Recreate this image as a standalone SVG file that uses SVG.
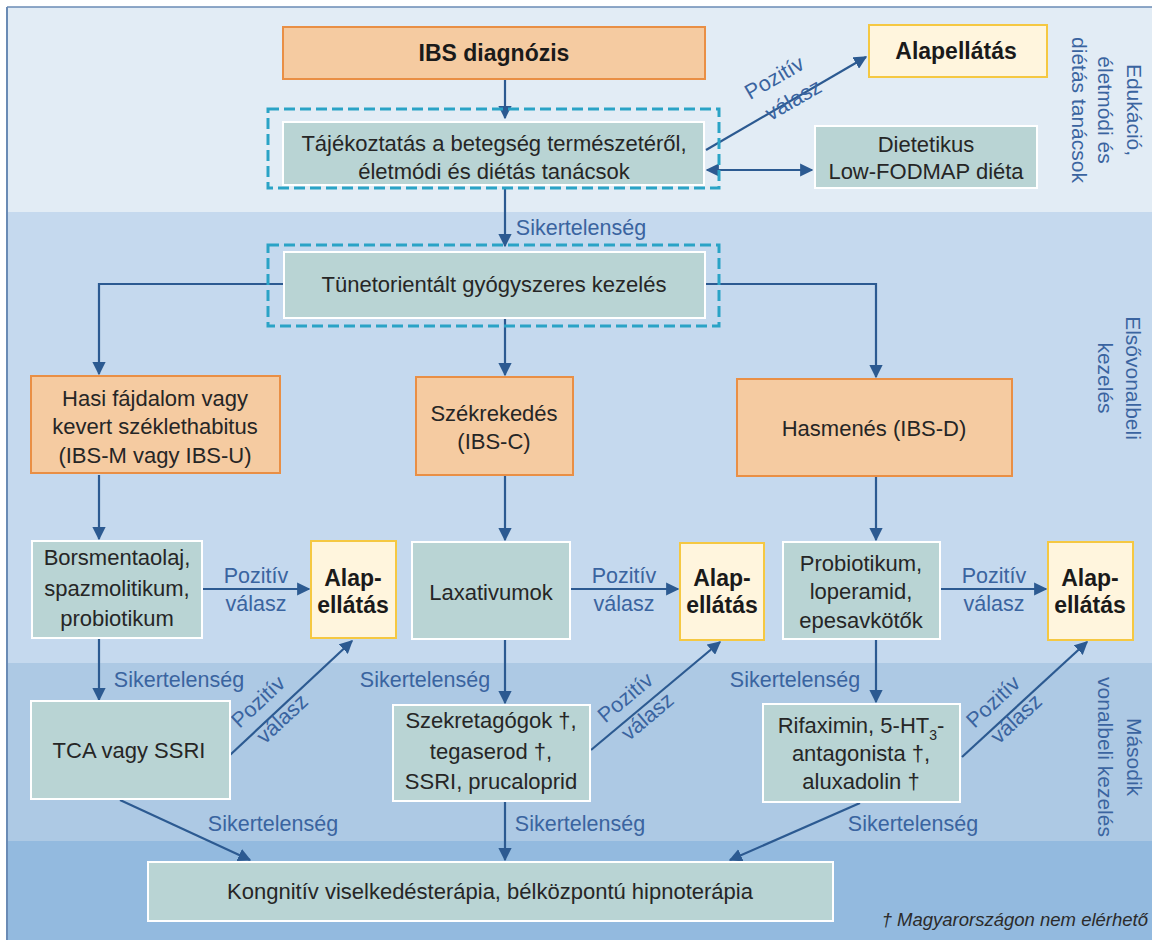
<svg xmlns="http://www.w3.org/2000/svg" width="1152" height="940" viewBox="0 0 1152 940">
<style>
.t{font-family:"Liberation Sans",Arial,sans-serif;font-size:22px;fill:#262626;text-anchor:middle}
.b{font-weight:bold;font-size:23px;fill:#1a1a1a}
.l{font-family:"Liberation Sans",Arial,sans-serif;font-size:21.5px;fill:#3a64a0;text-anchor:middle}
.side{font-family:"Liberation Sans",Arial,sans-serif;font-size:21px;fill:#3a64a0;text-anchor:middle}
.or{fill:#f5cba1;stroke:#e98f45;stroke-width:2}
.te{fill:#b9d4d4;stroke:#ffffff;stroke-width:2}
.ye{fill:#fff5dd;stroke:#f5c842;stroke-width:2}
.da{fill:none;stroke:#2aa3c6;stroke-width:3;stroke-dasharray:11 5}
.c{fill:none;stroke:#2c5a91;stroke-width:2.2}
</style>
<defs>
<marker id="ah" viewBox="0 0 10 10" refX="9" refY="5" markerWidth="6" markerHeight="6" orient="auto-start-reverse" markerUnits="strokeWidth">
<path d="M0,0 L10,5 L0,10 z" fill="#2c5a91"/>
</marker>
</defs>
<rect x="0" y="0" width="1152" height="940" fill="#ffffff"/>
<g id="bands">
<rect x="7" y="7" width="1145" height="205" fill="#e2ecf5"/>
<rect x="7" y="212" width="1145" height="451" fill="#c5d9ee"/>
<rect x="7" y="663" width="1145" height="178" fill="#adc9e4"/>
<rect x="7" y="841" width="1145" height="99" fill="#93badf"/>
<line x1="7" y1="7" x2="1152" y2="7" stroke="#6a8bb5" stroke-width="1.5"/>
<line x1="7" y1="7" x2="7" y2="940" stroke="#6a8bb5" stroke-width="2"/>
</g>
<g id="side-labels">
<text class="side" transform="translate(1127,110) rotate(90)"><tspan x="0" y="0">Edukáció,</tspan><tspan x="0" y="29">életmódi és</tspan><tspan x="0" y="55">diétás tanácsok</tspan></text>
<text class="side" transform="translate(1126,378) rotate(90)"><tspan x="0" y="0">Elsővonalbeli</tspan><tspan x="0" y="28">kezelés</tspan></text>
<text class="side" transform="translate(1127,757) rotate(90)"><tspan x="0" y="0">Második</tspan><tspan x="0" y="29">vonalbeli kezelés</tspan></text>
</g>
<g id="connectors">
<line class="c" x1="505" y1="79" x2="505" y2="118" marker-end="url(#ah)"/>
<line class="c" x1="706" y1="150" x2="866" y2="57" marker-end="url(#ah)"/>
<line class="c" x1="707" y1="170" x2="812" y2="170" marker-start="url(#ah)" marker-end="url(#ah)"/>
<line class="c" x1="505" y1="187" x2="505" y2="246" marker-end="url(#ah)"/>
<polyline class="c" points="284,284 99,284 99,374" marker-end="url(#ah)"/>
<line class="c" x1="505" y1="318" x2="505" y2="375" marker-end="url(#ah)"/>
<polyline class="c" points="705,284 876,284 876,377" marker-end="url(#ah)"/>
<line class="c" x1="99" y1="475" x2="99" y2="539" marker-end="url(#ah)"/>
<line class="c" x1="505" y1="476" x2="505" y2="540" marker-end="url(#ah)"/>
<line class="c" x1="876" y1="477" x2="876" y2="540" marker-end="url(#ah)"/>
<line class="c" x1="203" y1="589" x2="309" y2="589" marker-end="url(#ah)"/>
<line class="c" x1="571" y1="589" x2="678" y2="589" marker-end="url(#ah)"/>
<line class="c" x1="941" y1="589" x2="1046" y2="589" marker-end="url(#ah)"/>
<line class="c" x1="99" y1="639" x2="99" y2="700" marker-end="url(#ah)"/>
<line class="c" x1="505" y1="640" x2="505" y2="703" marker-end="url(#ah)"/>
<line class="c" x1="876" y1="640" x2="876" y2="702" marker-end="url(#ah)"/>
<line class="c" x1="230" y1="755" x2="352" y2="641" marker-end="url(#ah)"/>
<line class="c" x1="591" y1="750" x2="720" y2="642" marker-end="url(#ah)"/>
<line class="c" x1="962" y1="757" x2="1087" y2="642" marker-end="url(#ah)"/>
<line class="c" x1="120" y1="800" x2="250" y2="860" marker-end="url(#ah)"/>
<line class="c" x1="505" y1="802" x2="505" y2="860" marker-end="url(#ah)"/>
<line class="c" x1="860" y1="803" x2="730" y2="860" marker-end="url(#ah)"/>
<text class="l" transform="translate(778,84) rotate(-30)">Pozitív</text>
<text class="l" transform="translate(797,106) rotate(-30)">válasz</text>
<text class="l" x="581" y="235">Sikertelenség</text>
<text class="l" x="256" y="583">Pozitív</text>
<text class="l" x="256" y="611">válasz</text>
<text class="l" x="624" y="583">Pozitív</text>
<text class="l" x="624" y="611">válasz</text>
<text class="l" x="994" y="583">Pozitív</text>
<text class="l" x="994" y="611">válasz</text>
<text class="l" x="179" y="687">Sikertelenség</text>
<text class="l" x="425" y="687">Sikertelenség</text>
<text class="l" x="795" y="687">Sikertelenség</text>
<text class="l" transform="translate(263,707) rotate(-43)">Pozitív</text>
<text class="l" transform="translate(287,724) rotate(-43)">válasz</text>
<text class="l" transform="translate(630,703) rotate(-40)">Pozitív</text>
<text class="l" transform="translate(652,722) rotate(-40)">válasz</text>
<text class="l" transform="translate(998,707) rotate(-43)">Pozitív</text>
<text class="l" transform="translate(1021,724) rotate(-43)">válasz</text>
<text class="l" x="273" y="831">Sikertelenség</text>
<text class="l" x="580" y="831">Sikertelenség</text>
<text class="l" x="913" y="831">Sikertelenség</text>
</g>
<g id="ibs-diagnozis">
<rect class="or" x="283" y="27" width="422" height="52"/>
<text class="t b" x="494" y="61">IBS diagnózis</text>
</g>
<g id="tajekoztatas">
<rect class="da" x="268" y="109" width="451" height="79"/>
<rect class="te" x="283" y="122" width="421" height="63"/>
<text class="t" x="494" y="151">Tájékoztatás a betegség természetéről,</text>
<text class="t" x="494" y="179">életmódi és diétás tanácsok</text>
</g>
<g id="alapellatas-top">
<rect class="ye" x="869" y="25" width="178" height="52"/>
<text class="t b" x="956" y="59">Alapellátás</text>
</g>
<g id="dietetikus">
<rect class="te" x="815" y="126" width="222" height="62"/>
<text class="t" x="926" y="152">Dietetikus</text>
<text class="t" x="926" y="179">Low-FODMAP diéta</text>
</g>
<g id="tunetorientalt">
<rect class="da" x="268" y="245" width="451" height="81"/>
<rect class="te" x="284" y="252" width="421" height="66"/>
<text class="t" x="494" y="292">Tünetorientált gyógyszeres kezelés</text>
</g>
<g id="hasi">
<rect class="or" x="31" y="376" width="249" height="97"/>
<text class="t" x="155" y="406">Hasi fájdalom vagy</text>
<text class="t" x="155" y="434">kevert széklethabitus</text>
<text class="t" x="155" y="463">(IBS-M vagy IBS-U)</text>
</g>
<g id="szekrekedes">
<rect class="or" x="416" y="377" width="157" height="98"/>
<text class="t" x="494" y="421">Székrekedés</text>
<text class="t" x="494" y="449">(IBS-C)</text>
</g>
<g id="hasmenes">
<rect class="or" x="737" y="379" width="275" height="97"/>
<text class="t" x="874" y="436">Hasmenés (IBS-D)</text>
</g>
<g id="borsmenta">
<rect class="te" x="32" y="541" width="170" height="97"/>
<text class="t" x="117" y="565">Borsmentaolaj,</text>
<text class="t" x="117" y="596">spazmolitikum,</text>
<text class="t" x="117" y="626">probiotikum</text>
</g>
<g id="alap1">
<rect class="ye" x="311" y="541" width="85" height="97"/>
<text class="t b" x="353" y="586">Alap-</text>
<text class="t b" x="353" y="613">ellátás</text>
</g>
<g id="laxativumok">
<rect class="te" x="412" y="542" width="158" height="97"/>
<text class="t" x="491" y="600">Laxativumok</text>
</g>
<g id="alap2">
<rect class="ye" x="680" y="543" width="84" height="97"/>
<text class="t b" x="722" y="586">Alap-</text>
<text class="t b" x="722" y="613">ellátás</text>
</g>
<g id="probiotikum">
<rect class="te" x="783" y="542" width="157" height="97"/>
<text class="t" x="861" y="571">Probiotikum,</text>
<text class="t" x="861" y="599">loperamid,</text>
<text class="t" x="861" y="628">epesavkötők</text>
</g>
<g id="alap3">
<rect class="ye" x="1048" y="542" width="85" height="98"/>
<text class="t b" x="1090" y="586">Alap-</text>
<text class="t b" x="1090" y="613">ellátás</text>
</g>
<g id="tca">
<rect class="te" x="31" y="701" width="199" height="98"/>
<text class="t" x="129" y="758">TCA vagy SSRI</text>
</g>
<g id="szekretagogok">
<rect class="te" x="393" y="705" width="197" height="96"/>
<text class="t" x="491" y="728">Szekretagógok †,</text>
<text class="t" x="491" y="759">tegaserod †,</text>
<text class="t" x="491" y="789">SSRI, prucaloprid</text>
</g>
<g id="rifaximin">
<rect class="te" x="763" y="704" width="197" height="98"/>
<text class="t" x="861" y="733">Rifaximin, 5-HT<tspan font-size="14" dy="7">3</tspan><tspan dy="-7">-</tspan></text>
<text class="t" x="861" y="761">antagonista †,</text>
<text class="t" x="861" y="789">aluxadolin †</text>
</g>
<g id="kognitiv">
<rect class="te" x="148" y="862" width="685" height="59"/>
<text class="t" x="490" y="899">Kongnitív viselkedésterápia, bélközpontú hipnoterápia</text>
</g>
<text x="1148" y="926" font-family="'Liberation Sans',Arial,sans-serif" font-size="18.5" font-style="italic" fill="#2b2b2b" text-anchor="end">† Magyarországon nem elérhető</text>
</svg>
